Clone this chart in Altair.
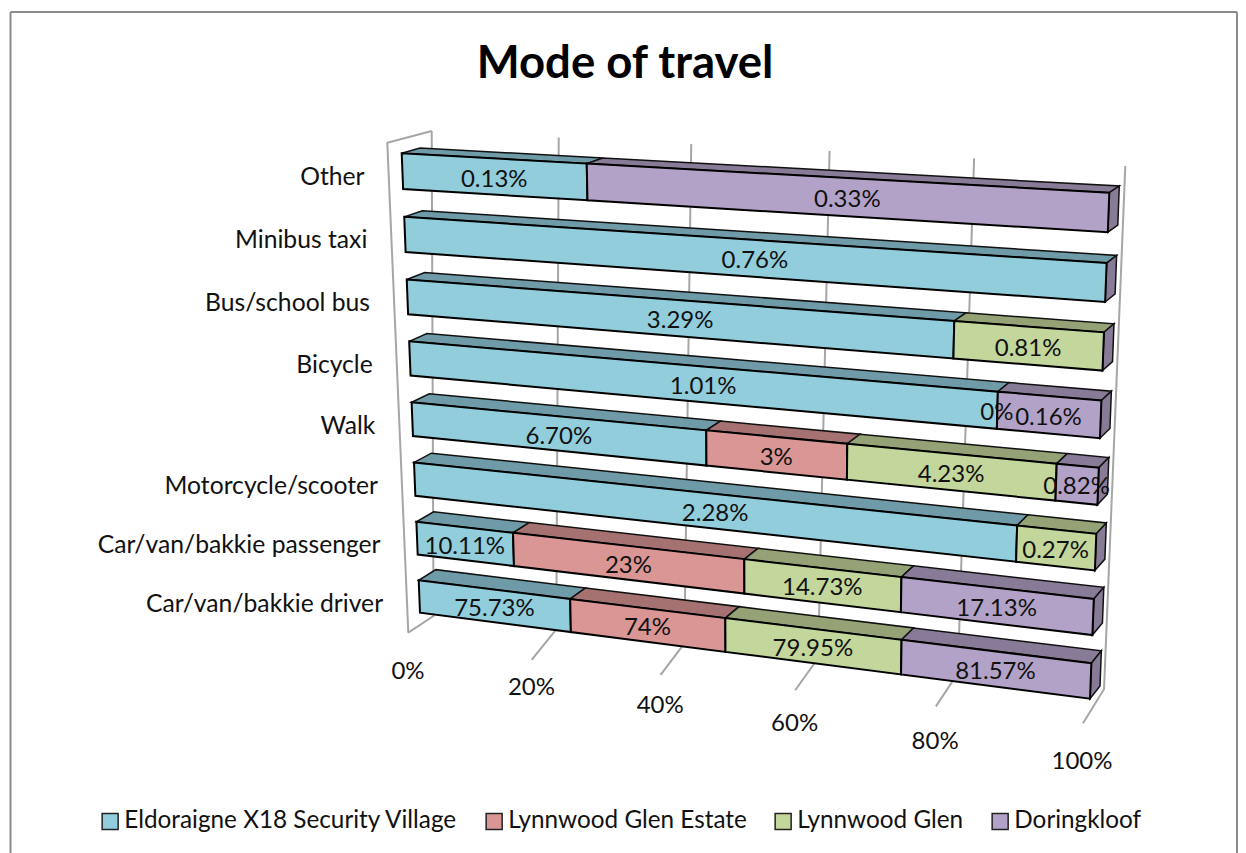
import altair as alt
import numpy as np

W, H = 1230, 845
OFF = 8  # page margin: picture coordinates are measured from the window's corner

categories = ["Car/van/bakkie driver", "Car/van/bakkie passenger", "Motorcycle/scooter", "Walk",
              "Bicycle", "Bus/school bus", "Minibus taxi", "Other"]
series = ["Eldoraigne X18 Security Village", "Lynnwood Glen Estate", "Lynnwood Glen", "Doringkloof"]
eldoraigne = [75.73, 10.11, 2.28, 6.70, 1.01, 3.29, 0.76, 0.13]
estate = [74, 23, 0, 3, 0, 0, 0, 0]
glen = [79.95, 14.73, 0.27, 4.23, 0, 0.81, 0, 0]
doringkloof = [81.57, 17.13, 0, 0.82, 0.16, 0, 0, 0.33]
labels_eldoraigne = ["75.73%", "10.11%", "2.28%", "6.70%", "1.01%", "3.29%", "0.76%", "0.13%"]
labels_estate = ["74%", "23%", "", "3%", "0%", "", "", ""]
labels_glen = ["79.95%", "14.73%", "0.27%", "4.23%", "", "0.81%", "", ""]
labels_doringkloof = ["81.57%", "17.13%", "", "0.82%", "0.16%", "", "", "0.33%"]
tick_labels = ["0%", "20%", "40%", "60%", "80%", "100%"]
front_colors = ["#92CDDC", "#D99694", "#C3D69B", "#B3A2C7"]
top_colors = ["#6F9BA8", "#A57171", "#94A276", "#887B97"]

table = [eldoraigne, estate, glen, doringkloof]
text_table = [labels_eldoraigne, labels_estate, labels_glen, labels_doringkloof]
GAP = 0.22


def homography(src, dst):
    a, b = [], []
    for (u, v), (x, y) in zip(src, dst):
        a.append([u, v, 1, 0, 0, 0, -u * x, -v * x])
        a.append([0, 0, 0, u, v, 1, -u * y, -v * y])
        b += [x, y]
    h = np.linalg.solve(np.array(a, float), np.array(b, float))
    m = np.append(h, 1).reshape(3, 3)

    def project(u, v):
        p = m @ np.array([u, v, 1.0])
        return [float(p[0] / p[2]), float(p[1] / p[2])]
    return project


src = [(0, 8 - GAP), (1, 8 - GAP), (0, GAP), (1, GAP)]
front = homography(src, [(401.7, 153.3), (1109.3, 192.7), (420, 612.7), (1090, 698.7)])
rear = homography(src, [(420, 148), (1119.3, 186), (437, 601.7), (1100, 686)])


def persp(t, r):
    return t / (t + (1 - t) * r)


def lerp(a, b, t):
    return [a[0] + (b[0] - a[0]) * t, a[1] + (b[1] - a[1]) * t]


def poly(points, color):
    return {"type": "Feature", "properties": {"color": color},
            "geometry": {"type": "Polygon", "coordinates": [[list(p) for p in points] + [list(points[0])]]}}


def line(points):
    return {"type": "Feature", "properties": {},
            "geometry": {"type": "LineString", "coordinates": [list(p) for p in points]}}


top_faces, front_faces, texts = [], [], []
for row in range(len(categories)):
    total = sum(s[row] for s in table)
    v0, v1 = row + GAP, row + 1 - GAP
    acc = 0.0
    for k, s in enumerate(table):
        u0, u1 = acc / total, (acc + s[row]) / total
        acc += s[row]
        if s[row] > 0:
            top_faces.append(poly([front(u0, v1), front(u1, v1), rear(u1, v1), rear(u0, v1)], top_colors[k]))
            front_faces.append(poly([front(u0, v1), front(u1, v1), front(u1, v0), front(u0, v0)], series[k]))
        if text_table[k][row]:
            c = lerp(front(u0, v0), front(u1, v1), 0.5)
            c2 = lerp(front(u0, v1), front(u1, v0), 0.5)
            texts.append({"x": (c[0] + c2[0]) / 2 - 0.5, "y": (c[1] + c2[1]) / 2 + 3, "t": text_table[k][row]})
    top_faces.append(poly([front(1, v1), front(1, v0), rear(1, v0), rear(1, v1)], top_colors[3]))

cat_texts = []
for row, name in enumerate(categories):
    p = front(-0.06, row + 0.5)
    cat_texts.append({"x": p[0], "y": p[1] + 13 - 4 * row / 7, "t": name})

# wall and floor lines
wt0, wt1 = (431.7, 131), (1125.3, 166)
wb0, wb1 = (433.5, 616), (1104, 689.3)
grid = []
ticks_xy = []
for i, lab in enumerate(tick_labels):
    t = i / 5
    f = persp(t, 1.115)
    top = lerp(wt0, wt1, f)
    bot = lerp(wb0, wb1, f)
    x_end = 408 + f * 675
    end = [x_end, 645.8 + 0.1148 * (x_end - 408)] if i else [408.3, 632.7]
    grid.append(line([top, bot, end]))
    lx = 408 + f * 674
    ticks_xy.append({"x": lx, "y": 672 + 0.1335 * (lx - 408), "t": lab})
grid.append(line([(408.3, 632.7), (387.3, 142.7), wt0]))

projection = dict(type="identity", reflectY=False, scale=1, translate=[-OFF, -OFF])


def geo(features):
    return alt.Data(values={"type": "FeatureCollection", "features": features},
                    format=alt.DataFormat(property="features", type="json"))


pxx = alt.X("x:Q", scale=alt.Scale(domain=[OFF, W + OFF], range=[0, W]), axis=None)
pxy = alt.Y("y:Q", scale=alt.Scale(domain=[OFF, H + OFF], range=[0, H]), axis=None)

frame = alt.Chart(alt.Data(values=[{"x": 10.5, "y": 12, "x2": 10.5, "y2": H + OFF},
                                   {"x": 10.5, "y": 12, "x2": 1237, "y2": 12},
                                   {"x": 1237, "y": 12, "x2": 1237, "y2": H + OFF}])).mark_rule(
    color="#8C8C8C", strokeWidth=2).encode(pxx, pxy, x2="x2:Q", y2="y2:Q")

grid_layer = alt.Chart(geo(grid)).mark_geoshape(filled=False, stroke="#A6A6A6", strokeWidth=2).project(**projection)

top_layer = alt.Chart(geo(top_faces)).mark_geoshape(stroke="#111111", strokeWidth=1.5).encode(
    fill=alt.Fill("properties.color:N", scale=alt.Scale(domain=top_colors, range=top_colors), legend=None)
).project(**projection)

front_layer = alt.Chart(geo(front_faces)).mark_geoshape(stroke="#000000", strokeWidth=2).encode(
    fill=alt.Fill("properties.color:N",
                  scale=alt.Scale(domain=series, range=front_colors),
                  legend=alt.Legend(title=None, orient="none", legendX=90, legendY=801, direction="horizontal",
                                    columns=4, symbolType="square", symbolSize=256, symbolStrokeColor="#222222",
                                    symbolStrokeWidth=1.5, labelFont="Lato", labelFontSize=24.3, labelColor="#111111",
                                    labelLimit=500, columnPadding=24, symbolOffset=0, labelOffset=2,
                                    labelExpr="datum.value == 'Lynnwood Glen' ? datum.label + '\u2002\u2005' : datum.label"))
).project(**projection)

data_text = alt.Chart(alt.Data(values=texts)).mark_text(font="Lato", fontSize=24, color="#111111").encode(pxx, pxy, text="t:N")
cat_text = alt.Chart(alt.Data(values=cat_texts)).mark_text(font="Lato", fontSize=24.7, color="#111111", align="right").encode(pxx, pxy, text="t:N")
tick_text = alt.Chart(alt.Data(values=ticks_xy)).mark_text(font="Lato", fontSize=24, color="#111111").encode(pxx, pxy, text="t:N")
title_text = alt.Chart(alt.Data(values=[{"x": 625, "y": 64, "t": "Mode of travel"}])).mark_text(
    font="Lato", fontSize=45.5, fontWeight="bold", color="#000000").encode(pxx, pxy, text="t:N")

chart = alt.layer(
    frame, grid_layer, top_layer, front_layer,
    data_text, cat_text, tick_text, title_text
).resolve_scale(fill="independent").properties(
    width=W, height=H, padding=0, autosize=alt.AutoSizeParams(type="none")
).configure_view(stroke=None)

chart.save("out.html", embed_options={"renderer": "svg", "actions": False})
